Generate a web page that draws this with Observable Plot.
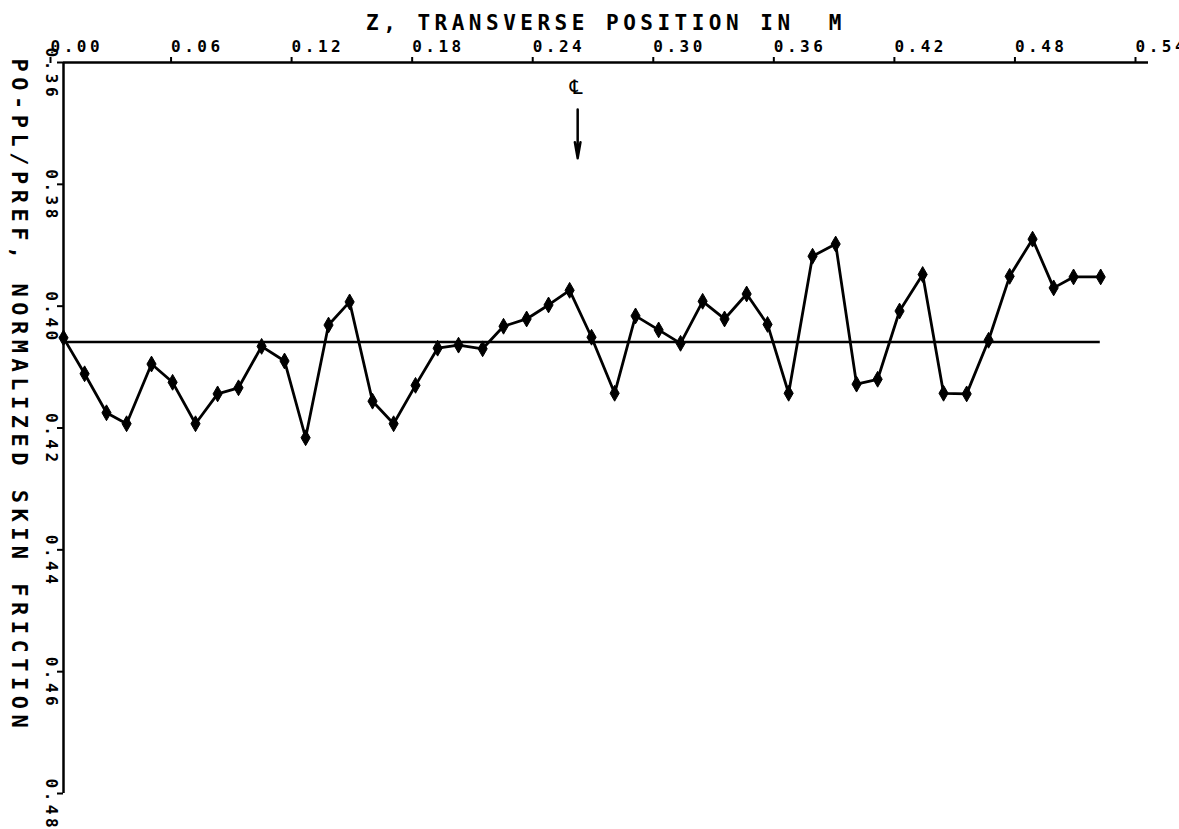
<!DOCTYPE html>
<html><head><meta charset="utf-8">
<script src="https://cdn.jsdelivr.net/npm/d3@7"></script>
<script src="https://cdn.jsdelivr.net/npm/@observablehq/plot@0.6"></script>
<style>
html,body{margin:0;padding:0;background:#fff;overflow:hidden;}
#chart svg text{letter-spacing:3.5px;}
</style></head><body><div id="chart"></div>
<script>
// Z, transverse position (m)
const zPos = [0.000, 0.0105, 0.0214, 0.0314, 0.0438, 0.0543, 0.0657, 0.0767, 0.0871, 0.0986,
  0.1100, 0.1205, 0.1319, 0.1424, 0.1538, 0.1643, 0.1752, 0.1862, 0.1966, 0.2086,
  0.2190, 0.2305, 0.2414, 0.2519, 0.2628, 0.2743, 0.2847, 0.2962, 0.3071, 0.3181,
  0.3290, 0.3400, 0.3504, 0.3609, 0.3728, 0.3843, 0.3947, 0.4052, 0.4161, 0.4276,
  0.4380, 0.4495, 0.4604, 0.4709, 0.4823, 0.4928, 0.5027, 0.5162];
// PO-PL/PREF normalized skin friction
const skinFriction = [0.4052, 0.4111, 0.4175, 0.4193, 0.4095, 0.4125, 0.4193, 0.4144, 0.4134, 0.4066,
  0.4090, 0.4216, 0.4031, 0.3993, 0.4156, 0.4193, 0.4130, 0.4069, 0.4064, 0.4070,
  0.4033, 0.4021, 0.3998, 0.3974, 0.4051, 0.4143, 0.4016, 0.4039, 0.4061, 0.3992,
  0.4021, 0.3980, 0.4030, 0.4143, 0.3918, 0.3898, 0.4128, 0.4120, 0.4008, 0.3948,
  0.4143, 0.4144, 0.4056, 0.3951, 0.3890, 0.3970, 0.3952, 0.3952];
const xTicks = [0.00, 0.06, 0.12, 0.18, 0.24, 0.30, 0.36, 0.42, 0.48, 0.54];
const yTicks = [0.36, 0.38, 0.40, 0.42, 0.44, 0.46, 0.48];
const refLevel = [0.4059];
const refSpan = [0.0, 0.516];
const centerlineZ = [0.2559];
const arrowSpan = [0.3677, 0.3757];
const centerlineLabelY = [0.3641];
const centerlineSymbol = "\u2104";
const xTitle = "Z, TRANSVERSE POSITION IN  M";
const yTitle = "PO-PL/PREF, NORMALIZED SKIN FRICTION";

const data = zPos.map((z, i) => ({z, cf: skinFriction[i]}));
const refData = refLevel.map(v => ({v, a: refSpan[0], b: refSpan[1]}));
const arrowData = centerlineZ.map(z => ({z, top: arrowSpan[0], tip: arrowSpan[1]}));

const plot = Plot.plot({
  width: 1179, height: 829,
  marginTop: 62, marginLeft: 63, marginRight: 31, marginBottom: 36,
  x: {domain: [xTicks[0], xTicks[xTicks.length - 1]]},
  y: {domain: [yTicks[0], yTicks[yTicks.length - 1]], reverse: true},
  style: {fontFamily: "'DejaVu Sans Mono', monospace", color: "#000", background: "#fff", fontWeight: "bold"},
  marks: [
    Plot.ruleY([yTicks[0]], {stroke: "#000", strokeWidth: 2.5}),
    Plot.ruleX([xTicks[0]], {stroke: "#000", strokeWidth: 2.5}),
    Plot.axisX(xTicks, {anchor: "top", tickSize: 6, tickPadding: 5, tickFormat: d => d.toFixed(2),
      textAnchor: "start", dx: -13, fontSize: 16, strokeWidth: 2, label: null}),
    Plot.axisY(yTicks, {anchor: "left", tickSize: 6, tickFormat: () => "", strokeWidth: 2, label: null}),
    Plot.text(yTicks, {y: d => d, frameAnchor: "left", text: d => d.toFixed(2), rotate: 90,
      textAnchor: "start", dx: -12, dy: -15, fontSize: 16}),
    Plot.text([xTitle], {frameAnchor: "top", text: d => d, dy: -47, fontSize: 21}),
    Plot.text([yTitle], {frameAnchor: "top-left", text: d => d, dx: -36, dy: -4, rotate: 90,
      textAnchor: "start", fontSize: 22}),
    Plot.ruleY(refData, {y: "v", x1: "a", x2: "b", stroke: "#000", strokeWidth: 2.5}),
    Plot.line(data, {x: "z", y: "cf", stroke: "#000", strokeWidth: 2.8}),
    Plot.dot(data, {x: "z", y: "cf", symbol: "diamond", r: 4.8, fill: "#000", stroke: "#000", strokeWidth: 1}),
    Plot.arrow(arrowData, {x: "z", y1: "top", y2: "tip", headLength: 14, headAngle: 20, stroke: "#000", strokeWidth: 2.5}),
    Plot.text(centerlineZ, {x: d => d, y: () => centerlineLabelY[0], text: () => centerlineSymbol,
      fontSize: 20, fontFamily: "'DejaVu Sans', sans-serif", fontWeight: "normal"})
  ]
});
document.getElementById("chart").appendChild(plot);
d3.select(plot).selectAll("text").filter(function() {
  return this.textContent === xTitle;
}).style("letter-spacing", "4.5px");
d3.select(plot).selectAll("text").filter(function() {
  return this.textContent === yTitle;
}).style("letter-spacing", "5.5px");
</script></body></html>
